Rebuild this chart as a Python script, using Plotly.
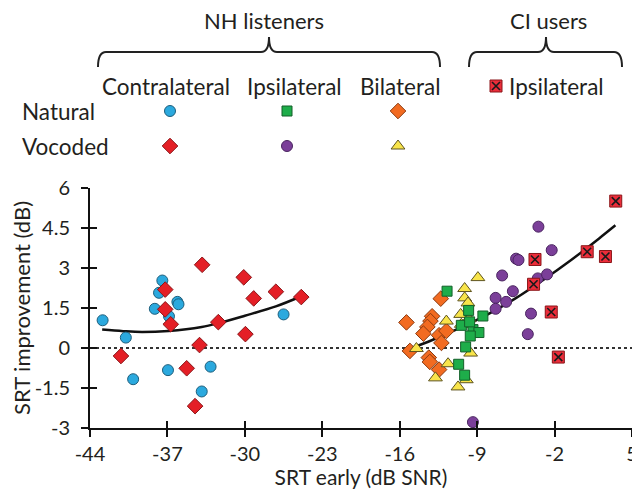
import plotly.graph_objects as go

# ---------------- data ----------------
contra_nat_x = [-42.86, -40.76, -40.1, -37.46, -37.76, -38.14, -36.86, -36.1, -36.0, -36.95, -33.1, -33.9, -26.5]
contra_nat_y = [1.04, 0.39, -1.17, 2.53, 2.07, 1.47, 1.19, 1.73, 1.64, -0.83, -0.70, -1.63, 1.26]

contra_voc_x = [-41.2, -37.2, -37.2, -36.7, -33.86, -34.1, -35.26, -34.5, -32.4, -30.1, -29.95, -29.2, -27.2, -24.9]
contra_voc_y = [-0.30, 2.19, 1.45, 0.89, 3.12, 0.11, -0.76, -2.18, 0.97, 2.65, 0.52, 1.86, 2.11, 1.91]

bilat_nat_x = [-12.29, -15.39, -13.07, -13.22, -13.5, -13.86, -12.44, -11.78, -12.23, -15.08, -13.37, -13.28, -12.44]
bilat_nat_y = [1.85, 0.96, 1.19, 1.01, 0.79, 0.54, 0.48, 0.64, 0.19, -0.11, -0.36, -0.52, -0.81]

bilat_voc_x = [-8.93, -10.13, -10.13, -9.83, -10.49, -9.74, -11.78, -10.43, -14.49, -9.59, -11.63, -12.77, -9.98, -10.73]
bilat_voc_y = [2.64, 2.23, 1.88, 1.69, 1.26, 1.10, 1.01, 0.89, -0.02, -0.19, -0.59, -1.12, -1.19, -1.46]

ipsi_nat_x = [-11.72, -9.77, -8.48, -10.43, -9.38, -8.84, -9.62, -10.04, -10.67, -10.13, -9.68]
ipsi_nat_y = [2.13, 1.41, 1.20, 0.85, 0.69, 0.58, 0.45, 0.04, -0.61, -1.02, 0.98]

ipsi_voc_x = [-3.46, -2.26, -5.48, -5.26, -6.74, -3.52, -2.68, -5.77, -7.33, -6.38, -7.33, -4.13, -4.42, -9.38]
ipsi_voc_y = [4.55, 3.67, 3.35, 3.30, 2.72, 2.61, 2.76, 2.13, 1.88, 1.73, 1.47, 1.29, 0.52, -2.78]

ci_x = [3.53, 0.95, 2.6, -3.77, -3.9, -2.3, -1.66]
ci_y = [5.51, 3.61, 3.43, 3.32, 2.39, 1.35, -0.34]

fit_left_x = [-42.9, -41.0, -39.3, -36.9, -33.9, -32.4, -30.0, -27.2, -24.9]
fit_left_y = [0.69, 0.63, 0.60, 0.64, 0.79, 0.93, 1.21, 1.56, 1.94]

fit_right_x = [-15.2, -13.0, -10.5, -8.0, -5.5, -3.0, -0.5, 2.0, 3.5]
fit_right_y = [-0.05, 0.31, 0.76, 1.27, 1.87, 2.56, 3.30, 4.10, 4.60]

x_ticks = [-44, -37, -30, -23, -16, -9, -2, 5]
y_ticks = [-3, -1.5, 0, 1.5, 3, 4.5, 6]
y_tick_text = ["-3", "-1.5", "0", "1.5", "3", "4.5", "6"]
x_tick_text = ["-44", "-37", "-30", "-23", "-16", "-9", "-2", "5"]

# ---------------- styling ----------------
FONT = "Lato"
TXT = "#231F20"
BODY = 8                      # default page margin around the plot div
W, H = 640 - BODY, 497 - 2 * BODY
PLOT_L, PLOT_T, PLOT_B = 90 - BODY, 188 - BODY, 428 - BODY
ML, MR, MT = 4, 8, 4
MB = H - PLOT_B
pw = W - ML - MR
ph = H - MT - MB
xdom = [(PLOT_L - ML) / pw, 1]
ydom = [0, (PLOT_B - PLOT_T) / ph]

styles = {
    "contra_nat": dict(symbol="circle", color="#2BA9DE", line="#1D5E7C", size=11),
    "contra_voc": dict(symbol="diamond", color="#E41F26", line="#8A1518", size=12),
    "ipsi_nat": dict(symbol="square", color="#1EAD4A", line="#135F29", size=10),
    "ipsi_voc": dict(symbol="circle", color="#7B3F99", line="#4A2560", size=11),
    "bilat_nat": dict(symbol="diamond", color="#F26B21", line="#8A3A10", size=12),
    "bilat_voc": dict(symbol="triangle-up", color="#F8E44A", line="#5E5420", size=12),
    "ci": dict(symbol="square", color="#EC2D3A", line="#8A1518", size=12),
}

fig = go.Figure()


def add_pts(x, y, key, xa="x", ya="y"):
    s = styles[key]
    fig.add_trace(go.Scatter(
        x=x, y=y, mode="markers", xaxis=xa, yaxis=ya, showlegend=False,
        cliponaxis=False, hoverinfo="skip",
        marker=dict(symbol=s["symbol"], color=s["color"], size=s["size"],
                    line=dict(color=s["line"], width=1)),
    ))
    if key == "ci":
        fig.add_trace(go.Scatter(
            x=x, y=y, mode="markers", xaxis=xa, yaxis=ya, showlegend=False,
            cliponaxis=False, hoverinfo="skip",
            marker=dict(symbol="x-thin", size=8, line=dict(color="#1a1a1a", width=1.6)),
        ))


# fit curves
for fx, fy in [(fit_left_x, fit_left_y), (fit_right_x, fit_right_y)]:
    fig.add_trace(go.Scatter(x=fx, y=fy, mode="lines", showlegend=False, hoverinfo="skip",
                             line=dict(color="#111", width=2.5, shape="spline")))

add_pts(contra_nat_x, contra_nat_y, "contra_nat")
add_pts(contra_voc_x, contra_voc_y, "contra_voc")
add_pts(bilat_nat_x, bilat_nat_y, "bilat_nat")
add_pts(bilat_voc_x, bilat_voc_y, "bilat_voc")
add_pts(ipsi_nat_x, ipsi_nat_y, "ipsi_nat")
add_pts(ipsi_voc_x, ipsi_voc_y, "ipsi_voc")
add_pts(ci_x, ci_y, "ci")

# overlay axes for inward half of crossing ticks
fig.add_trace(go.Scatter(x=[], y=[], xaxis="x2", yaxis="y2", showlegend=False))

# legend drawn on a screen-pixel axis covering the whole paper
leg = [
    ("contra_nat", 170, 111), ("ipsi_nat", 287, 111), ("bilat_nat", 398, 111),
    ("contra_voc", 170, 146), ("ipsi_voc", 287, 146), ("bilat_voc", 398, 146),
    ("ci", 496, 86),
]
for key, lx, ly in leg:
    add_pts([lx], [ly], key, xa="x3", ya="y3")

axis_common = dict(showgrid=False, zeroline=False, linecolor="#111", linewidth=2,
                   tickcolor="#111", tickwidth=2, ticklen=7, automargin=False,
                   ticklabeloverflow="allow",
                   tickfont=dict(family=FONT, size=20, color=TXT))

fig.update_layout(
    width=W, height=H, margin=dict(l=ML, r=MR, t=MT, b=MB, autoexpand=False),
    paper_bgcolor="white", plot_bgcolor="rgba(0,0,0,0)",
    font=dict(family=FONT, color=TXT),
    xaxis=dict(domain=xdom, range=[-44, 5], tickvals=x_ticks, ticktext=x_tick_text, ticks="outside",
               showline=True, anchor="y", ticklabelstandoff=0,
               title=dict(text="SRT early (dB SNR)", font=dict(family=FONT, size=21, color=TXT), standoff=7),
               **axis_common),
    yaxis=dict(domain=ydom, range=[-3, 6], tickvals=y_ticks, ticktext=y_tick_text, ticks="outside",
               showline=True, anchor="x", ticklabelstandoff=7,
               title=dict(text="SRT improvement (dB)", font=dict(family=FONT, size=22, color=TXT), standoff=4),
               **axis_common),
    xaxis2=dict(domain=xdom, range=[-44, 5], tickvals=x_ticks, ticks="inside", ticklen=7,
                tickwidth=2, tickcolor="#111", showticklabels=False, showline=False,
                showgrid=False, zeroline=False, anchor="y2", automargin=False),
    yaxis2=dict(domain=ydom, range=[-3, 6], tickvals=y_ticks, ticks="inside", ticklen=7,
                tickwidth=2, tickcolor="#111", showticklabels=False, showline=False,
                showgrid=False, zeroline=False, anchor="x2", automargin=False),
    xaxis3=dict(domain=[0, 1], range=[ML + BODY, W - MR + BODY], visible=False, anchor="y3", automargin=False),
    yaxis3=dict(domain=[0, 1], range=[H - MB + BODY, MT + BODY], visible=False, anchor="x3", automargin=False),
)

# dotted zero line
fig.add_shape(type="line", xref="x", yref="y", x0=-44, x1=5, y0=0, y1=0,
              line=dict(color="#333", width=2, dash="dot"), layer="below")

# braces (screen-pixel coordinates of the reference)
brace_nh = "M 98,67 Q 98,52 106,52 L 261,52 Q 269,52 269,37 Q 269,52 277,52 L 432,52 Q 440,52 440,67"
brace_ci = "M 469,67 Q 469,52 477,52 L 538,52 Q 546,52 546,37 Q 546,52 554,52 L 614,52 Q 622,52 622,67"
for p in (brace_nh, brace_ci):
    fig.add_shape(type="path", path=p, xref="x3", yref="y3", line=dict(color="#222", width=2))

labels = [
    ("NH listeners", 264, 20, 22),
    ("CI users", 548, 20, 22),
    ("Contralateral", 166, 86, 22.5),
    ("Ipsilateral", 294, 86, 22.5),
    ("Bilateral", 400, 86, 22.5),
    ("Ipsilateral", 507, 86, 22.5),
    ("Natural", 20, 111, 22.5),
    ("Vocoded", 20, 146, 22.5),
]
for i, (t, lx, ly, fs) in enumerate(labels):
    anc = "left" if i >= 5 else "center"
    fig.add_annotation(text=t, x=lx, y=ly, xref="x3", yref="y3", showarrow=False,
                       xanchor=anc, yanchor="middle",
                       font=dict(family=FONT, size=fs, color=TXT))

fig.write_html("out.html")
